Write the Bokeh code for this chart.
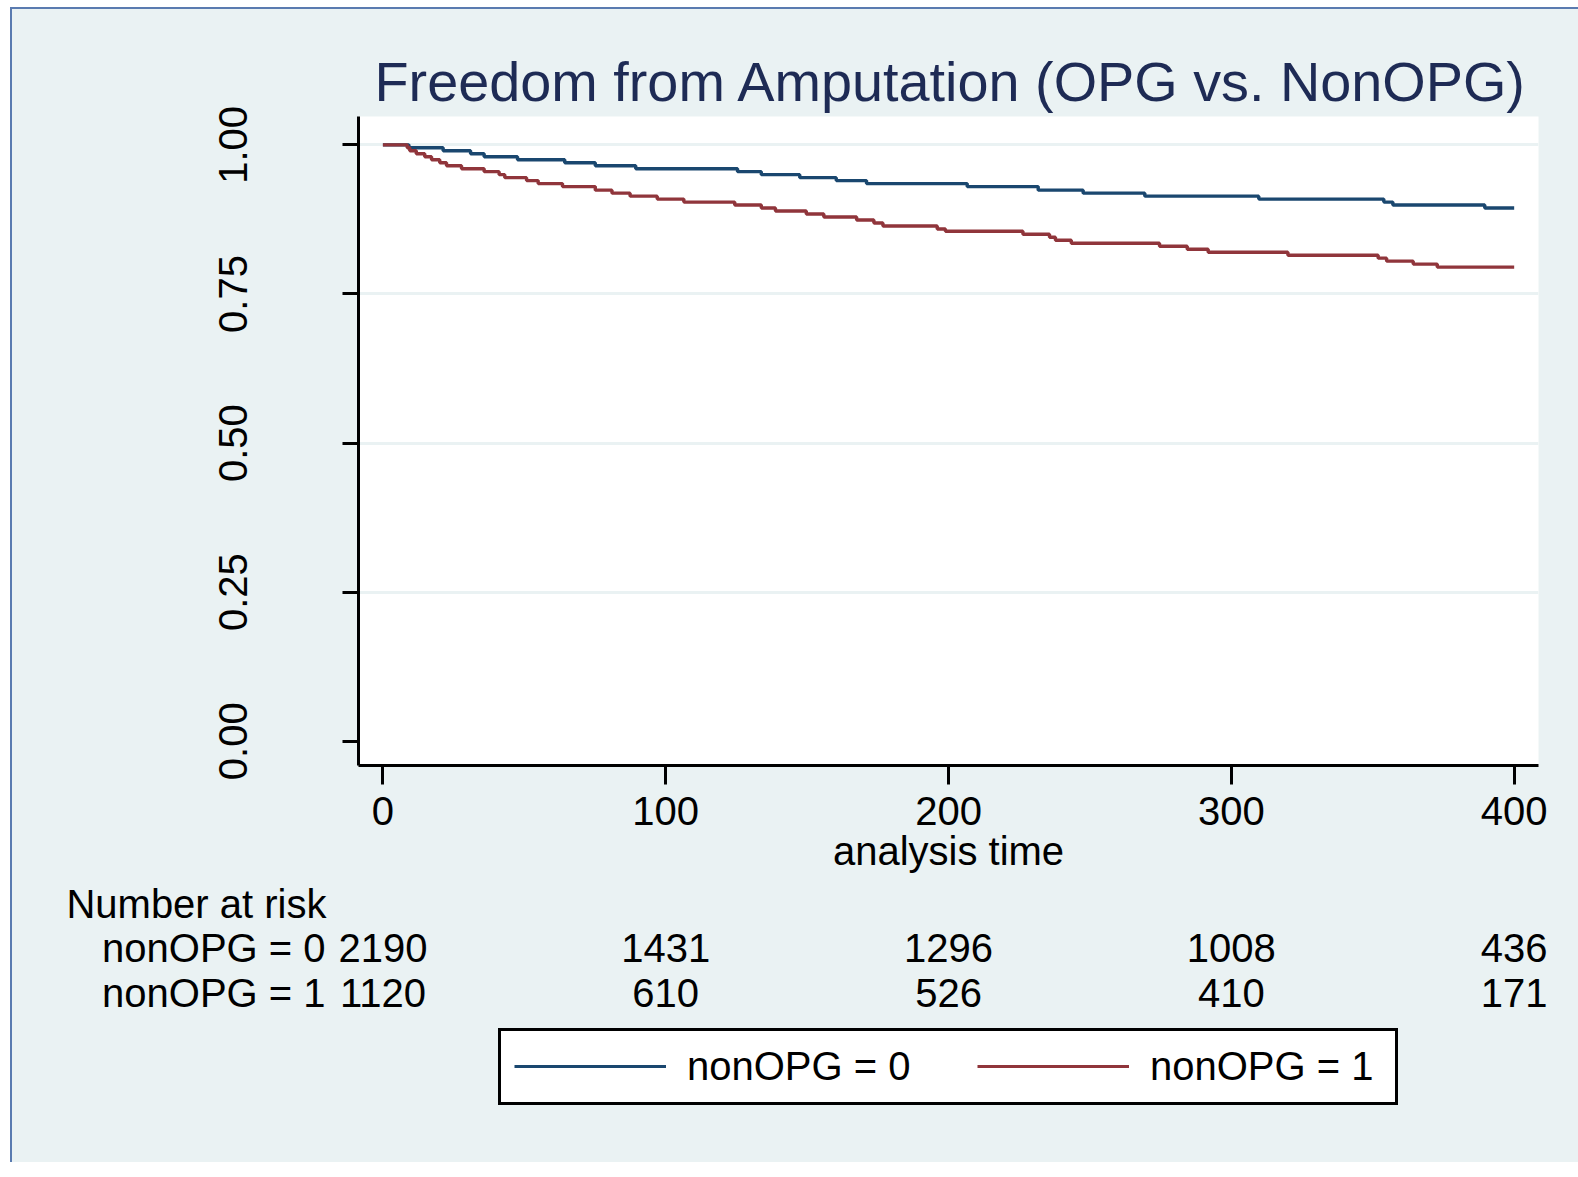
from bokeh.plotting import figure
from bokeh.layouts import column
from bokeh.models import (Range1d, LabelSet, Legend, LegendItem,
                          ColumnDataSource, NumeralTickFormatter)
from bokeh.core.properties import value
from bokeh.embed import file_html
from bokeh.resources import INLINE

# Kaplan-Meier survivor function: time of each drop and survival after it
time_nonopg0 = [0, 9.2, 21.3, 31.0, 35.8, 47.6, 64.3, 75.1, 89.4, 125.4, 133.8,
                147.4, 160.3, 171.0, 206.6, 231.7, 247.6, 269.4, 309.7, 353.9,
                357.1, 389.6, 400.0]
surv_nonopg0 = [1.0, 0.995, 0.990, 0.985, 0.980, 0.975, 0.970, 0.965, 0.960,
                0.955, 0.950, 0.945, 0.940, 0.935, 0.930, 0.924, 0.919, 0.914,
                0.909, 0.904, 0.899, 0.894, 0.894]

time_nonopg1 = [0, 8.6, 9.5, 11.8, 14.8, 17.2, 20.1, 22.5, 27.8, 35.8, 41.1,
                43.1, 50.8, 54.9, 63.5, 75.1, 81.0, 87.4, 97.0, 106.4, 124.4,
                133.8, 138.8, 149.7, 155.9, 167.5, 173.6, 176.8, 196.0, 198.9,
                226.3, 235.7, 237.8, 243.4, 274.6, 284.4, 291.8, 320.0, 351.9,
                354.9, 364.3, 372.8, 400.0]
surv_nonopg1 = [1.0, 0.995, 0.990, 0.985, 0.980, 0.975, 0.970, 0.965, 0.960,
                0.955, 0.950, 0.945, 0.940, 0.935, 0.930, 0.924, 0.919, 0.914,
                0.909, 0.904, 0.899, 0.894, 0.889, 0.884, 0.879, 0.874, 0.869,
                0.864, 0.859, 0.855, 0.850, 0.845, 0.840, 0.835, 0.830, 0.825,
                0.820, 0.815, 0.810, 0.805, 0.800, 0.795, 0.795]

# Number-at-risk table
risk_times = [0, 100, 200, 300, 400]
risk_nonopg0 = [2190, 1431, 1296, 1008, 436]
risk_nonopg1 = [1120, 610, 526, 410, 171]
group_names = ["nonOPG = 0", "nonOPG = 1"]

x_ticks = [0, 100, 200, 300, 400]
y_ticks = [0.0, 0.25, 0.50, 0.75, 1.0]

BLUE = "#1a476f"
RED = "#90353b"
PANEL = "#eaf2f3"
FONT = "Liberation Sans"
FS = "40px"

# layout of the graph region (pixels)
W = 1566
TOP_H = 871
BOT_H = 282
M_LEFT, M_RIGHT, M_TOP, M_BOTTOM = 346, 40, 107, 115
X0, X1 = -8.63, 408.6
Y0, Y1 = -0.0406, 1.0475

# ---- survival plot ----
p = figure(width=W, height=TOP_H,
           x_range=Range1d(X0, X1), y_range=Range1d(Y0, Y1),
           output_backend="svg", toolbar_location=None,
           min_border_left=M_LEFT, min_border_right=M_RIGHT,
           min_border_top=M_TOP, min_border_bottom=M_BOTTOM,
           border_fill_color=PANEL, background_fill_color="white",
           outline_line_color=None, frame_align=False,
           title="Freedom from Amputation (OPG vs. NonOPG)")

p.title.align = "left"
p.title.offset = 16
p.title.text_font = FONT
p.title.text_font_size = "55.8px"
p.title.text_font_style = "normal"
p.title.text_color = "#1e2b55"
p.title.standoff = 8

for ax in (p.xaxis[0], p.yaxis[0]):
    ax.axis_line_width = 3
    ax.axis_line_color = "black"
    ax.major_tick_line_width = 3
    ax.major_tick_line_color = "black"
    ax.major_tick_in = 0
    ax.minor_tick_line_color = None
    ax.major_label_text_font = FONT
    ax.major_label_text_font_size = FS
    ax.major_label_text_color = "black"

p.xaxis.ticker = x_ticks
p.xaxis.major_tick_out = 19
p.xaxis.major_label_standoff = 12
p.xaxis.axis_label = "analysis time"
p.xaxis.axis_label_text_font = FONT
p.xaxis.axis_label_text_font_size = FS
p.xaxis.axis_label_text_font_style = "normal"
p.xaxis.axis_label_text_color = "black"
p.xaxis.axis_label_standoff = 1

p.yaxis.ticker = y_ticks
p.yaxis.formatter = NumeralTickFormatter(format="0.00")
p.yaxis.major_tick_out = 16
p.yaxis.major_label_orientation = "vertical"
p.yaxis.major_label_standoff = 95

p.xgrid.grid_line_color = None
p.ygrid.ticker = [0.25, 0.50, 0.75, 1.0]
p.ygrid.grid_line_color = PANEL
p.ygrid.grid_line_width = 3

line0 = dict(line_color=BLUE, line_width=3.4)
line1 = dict(line_color=RED, line_width=3.4)
p.step(time_nonopg0, surv_nonopg0, mode="after", **line0)
p.step(time_nonopg1, surv_nonopg1, mode="after", **line1)

# ---- number-at-risk table and legend: same time scale, survival scale continued below ----
x_per_px = (X1 - X0) / (W - M_LEFT - M_RIGHT)
y_per_px = (Y1 - Y0) / (TOP_H - M_TOP - M_BOTTOM)
q_top = Y0 - M_BOTTOM * y_per_px
q = figure(width=W, height=BOT_H,
           x_range=Range1d(X0 - M_LEFT * x_per_px, X1 + M_RIGHT * x_per_px),
           y_range=Range1d(q_top - BOT_H * y_per_px, q_top),
           output_backend="svg", toolbar_location=None,
           x_axis_type=None, y_axis_type=None,
           min_border_left=0, min_border_right=0, min_border_top=0, min_border_bottom=0,
           border_fill_color=PANEL, background_fill_color=PANEL,
           outline_line_color=None, frame_align=False)
q.grid.visible = False

text_style = dict(text_font=value(FONT), text_font_size=FS, text_color="black",
                  text_baseline="alphabetic")

# header and group names (left aligned), then the counts centred on the time ticks
row_y = [-0.3704, -0.4447]
head = ColumnDataSource(dict(x=[-111.9, -99.3, -99.3], y=[-0.2966] + row_y,
                             t=["Number at risk"] + group_names))
q.add_layout(LabelSet(x="x", y="y", text="t", source=head, text_align="left", **text_style))
for yy, counts in zip(row_y, [risk_nonopg0, risk_nonopg1]):
    src = ColumnDataSource(dict(t=risk_times, n=[str(c) for c in counts]))
    q.add_layout(LabelSet(x="t", y=yy, text="n", source=src, text_align="center", **text_style))

# the same curves (they lie above this panel's range) give the legend its keys
k0 = q.step(time_nonopg0, surv_nonopg0, mode="after", line_color=BLUE, line_width=3)
k1 = q.step(time_nonopg1, surv_nonopg1, mode="after", line_color=RED, line_width=3)
legend = Legend(items=[LegendItem(label=group_names[0], renderers=[k0]),
                       LegendItem(label=group_names[1], renderers=[k1])],
                orientation="horizontal", location=(486, 57.5),
                border_line_color="black", border_line_width=3, border_line_alpha=1,
                background_fill_color="white", background_fill_alpha=1,
                label_text_font=FONT, label_text_font_size=FS,
                label_text_color="black",
                glyph_width=152, glyph_height=40, label_height=40, label_width=232,
                label_standoff=21, spacing=58, padding=13, margin=0)
q.add_layout(legend, "center")

page = column(p, q, spacing=0)
page.styles = {"margin-left": "10px", "margin-top": "7px", "background-color": PANEL,
               "border-left": "2px solid #5a7bb0", "border-top": "2px solid #5a7bb0"}

open("out.html", "w").write(file_html(page, INLINE))
